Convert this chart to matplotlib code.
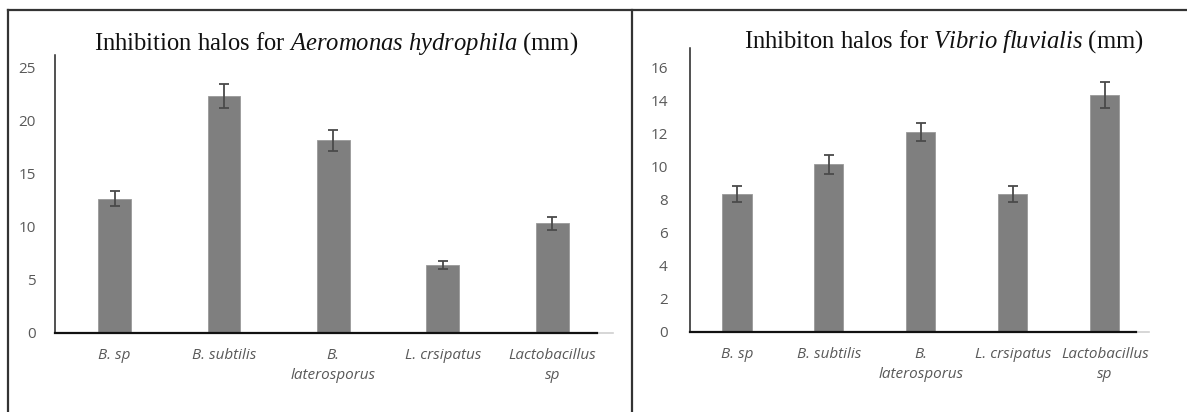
import matplotlib
matplotlib.use('Agg')
import matplotlib.pyplot as plt
from matplotlib.lines import Line2D

# Data
strains = ['B. sp', 'B. subtilis', 'B.\nlaterosporus', 'L. crsipatus', 'Lactobacillus\nsp']
aeromonas = [12.6, 22.3, 18.1, 6.4, 10.3]
aeromonas_err = [0.7, 1.15, 1.0, 0.4, 0.6]
vibrio = [8.35, 10.15, 12.1, 8.35, 14.35]
vibrio_err = [0.48, 0.57, 0.57, 0.48, 0.8]

plt.rcParams['mathtext.fontset'] = 'custom'
plt.rcParams['mathtext.rm'] = 'Liberation Serif'
plt.rcParams['mathtext.it'] = 'Liberation Serif:italic'

W, H = 1187, 412
fig = plt.figure(figsize=(W / 100, H / 100), dpi=100)

def px(x, y):
    return x / W, 1 - y / H

# table-like frame around the two panels
frame = dict(color='#333333', lw=1.6, transform=fig.transFigure)
fig.add_artist(Line2D([8 / W, 1], [1 - 10 / H] * 2, **frame))
fig.add_artist(Line2D([8 / W] * 2, [0, 1 - 10 / H], **frame))
fig.add_artist(Line2D([632 / W] * 2, [0, 1 - 10 / H], **frame))


def panel(rect, values, errs, xlim, ylim, yticks, width, title, title_xy, label_pad):
    ax = fig.add_axes(rect)
    x = range(len(values))
    ax.bar(x, values, width=width, color='#7f7f7f', edgecolor='#9a9a9a', linewidth=0.6, zorder=2)
    ax.errorbar(x, values, yerr=errs, fmt='none', ecolor='#4a4a4a', elinewidth=1.3,
                capsize=3.8, capthick=1.3, zorder=3)
    ax.set_xlim(*xlim)
    ax.set_ylim(*ylim)
    ax.set_yticks(yticks)
    ax.set_xticks(list(x))
    ax.set_xticklabels(strains, fontstyle='italic', fontsize=11, color='#595959',
                       family='Open Sans', linespacing=1.45, va='top')
    for lab in ax.get_yticklabels():
        lab.set_family('Open Sans')
    ax.tick_params(axis='y', length=0, labelsize=11, labelcolor='#595959', pad=label_pad)
    ax.tick_params(axis='x', length=0, pad=11)
    for s in ['top', 'right']:
        ax.spines[s].set_visible(False)
    ax.spines['left'].set_linewidth(1.1)
    ax.spines['bottom'].set_linewidth(1.6)
    ax.spines['left'].set_color('#222222')
    ax.spines['bottom'].set_color('#111111')
    # light tail of the category axis
    ax.plot([1.0, 1.03], [0, 0], transform=ax.transAxes, color='#d0d0d0', lw=1.2, clip_on=False)
    tx, ty = px(*title_xy)
    fig.text(tx, ty, title, ha='center', va='center', fontsize=17.7,
             family='Liberation Serif', color='#111111')
    return ax


panel([55 / W, 1 - 333 / H, 542 / W, 278 / H], aeromonas, aeromonas_err,
      (-0.544, 4.41), (0, 26.13), [0, 5, 10, 15, 20, 25], 0.30,
      r'Inhibition halos for $\mathit{Aeromonas\ hydrophila}$ (mm)', (336, 44), 14)

panel([690 / W, 1 - 331.7 / H, 446 / W, 283.7 / H], vibrio, vibrio_err,
      (-0.511, 4.34), (0, 17.19), [0, 2, 4, 6, 8, 10, 12, 14, 16], 0.316,
      r'Inhibiton halos for $\mathit{Vibrio\ fluvialis}$ (mm)', (944, 42), 16)

plt.savefig('out.png', dpi=100)
